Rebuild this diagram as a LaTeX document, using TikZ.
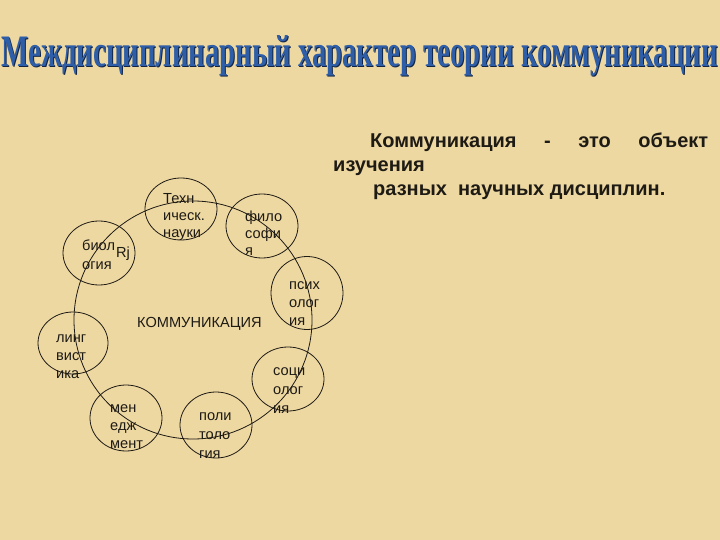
\documentclass[tikz,border=0pt]{standalone}
\usepackage{fontspec}
\setmainfont{Liberation Serif}
\newfontfamily\arial{Liberation Sans}
\usetikzlibrary{shapes.geometric}
\definecolor{parch}{HTML}{EDD8A2}
\definecolor{titleblue}{HTML}{2F5EA8}
\definecolor{ink}{HTML}{1E1A14}
\tikzset{
  ring/.style={draw=ink, line width=0.8pt, ellipse, inner sep=0pt},
  lbl/.style={font=\arial\fontsize{14.6pt}{18pt}\selectfont, text=ink, anchor=base west, inner sep=0pt, align=left},
  rtext/.style={font=\arial\bfseries\fontsize{20pt}{24pt}\selectfont, text=ink, anchor=base west, inner sep=0pt}
}
\newcommand{\ttl}{\resizebox{716pt}{\height}{\fontsize{45pt}{45pt}\selectfont\bfseries Междисциплинарный характер теории коммуникации}}
\begin{document}
\begin{tikzpicture}[x=1pt,y=-1pt]
\fill[parch] (0,0) rectangle (720,540);
\useasboundingbox (0,0) rectangle (720,540);
% title
\node[anchor=base, inner sep=0pt, text=black!60!titleblue] (titleshadow) at (361,68) {\ttl};
\node[anchor=base, inner sep=0pt, text=titleblue] (title) at (360,67) {\ttl};
% right text
\node[rtext] (r1) at (370,148) {\hbox to 338pt{Коммуникация\hfill-\hfill это\hfill объект}};
\node[rtext] (r2) at (333,172) {изучения};
\node[rtext] (r3) at (373,196) {разных\ \ научных дисциплин.};
% big circle
\node[draw=ink, line width=0.8pt, circle, minimum size=238pt, inner sep=0pt] (big) at (193,320) {};
% small rings
\node[ring, minimum width=72pt, minimum height=62pt] (ctech) at (181,209) {};
\node[ring, minimum width=72pt, minimum height=64pt] (cfilo) at (262,226) {};
\node[ring, minimum width=72pt, minimum height=64pt] (cbio) at (99,253) {};
\node[ring, minimum width=72pt, minimum height=73pt] (cpsy) at (307,293) {};
\node[ring, minimum width=72pt, minimum height=64pt] (csoc) at (288,379) {};
\node[ring, minimum width=70pt, minimum height=62pt] (cling) at (73,343) {};
\node[ring, minimum width=72pt, minimum height=66pt] (cman) at (126,418) {};
\node[ring, minimum width=72pt, minimum height=66pt] (cpol) at (216,425) {};
% labels (anchor = baseline of the last line)
\node[lbl, font=\arial\fontsize{14.6pt}{17pt}\selectfont] (ttech) at (163,237) {Техн\\ическ.\\науки};
\node[lbl, font=\arial\fontsize{14.6pt}{17pt}\selectfont] (tfilo) at (245,255) {фило\\софи\\я};
\node[lbl] (tbio) at (82,250) {биол};
\node[lbl] (trj) at (116,257) {Rj};
\node[lbl] (tbio2) at (82,269) {огия};
\node[lbl] (tpsy) at (289,325) {псих\\олог\\ия};
\node[lbl, font=\arial\fontsize{14.6pt}{19pt}\selectfont] (tsoc) at (273,413) {соци\\олог\\ия};
\node[lbl] (tling) at (56,378) {линг\\вист\\ика};
\node[lbl] (tman) at (110,448) {мен\\едж\\мент};
\node[lbl, font=\arial\fontsize{14.6pt}{19pt}\selectfont] (tpol) at (199,458) {поли\\толо\\гия};
\node[lbl] (tcomm) at (137,327) {КОММУНИКАЦИЯ};
\end{tikzpicture}
\end{document}
